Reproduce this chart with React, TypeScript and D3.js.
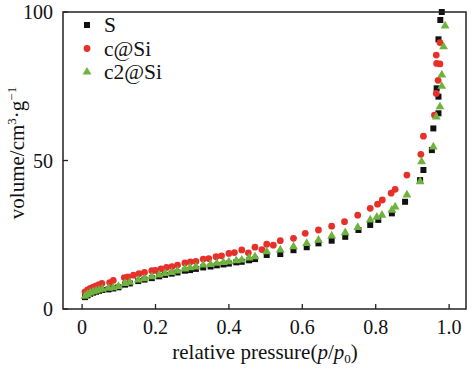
import React from "react";
import * as d3 from "d3";

const W = 474;
const H = 377;

const xTicks = [0, 0.2, 0.4, 0.6, 0.8, 1.0];
const xTickLabels = ["0", "0.2", "0.4", "0.6", "0.8", "1.0"];
const yTicks = [0, 50, 100];
const yTickLabels = ["0", "50", "100"];

const seriesNames = ["S", "c@Si", "c2@Si"];

const sP = [0.008,0.015,0.022,0.03,0.038,0.046,0.055,0.072,0.085,0.099,0.117,0.13,0.153,0.17,0.19,0.21,0.226,0.244,0.26,0.28,0.294,0.31,0.33,0.35,0.367,0.385,0.4,0.42,0.435,0.455,0.471,0.503,0.54,0.576,0.612,0.644,0.68,0.717,0.753,0.785,0.807,0.844,0.88,0.921,0.93,0.953,0.957,0.971,0.971,0.966,0.971,0.976,0.98];
const sV = [4.0,4.6,5.1,5.5,5.8,6.1,6.4,6.6,6.9,7.3,8.2,8.6,9.4,9.9,10.4,11.0,11.5,11.9,12.3,12.9,13.1,13.5,14.0,14.3,14.7,15.0,15.3,15.7,15.9,16.4,16.8,18.2,18.5,19.8,20.8,22.1,23.0,24.3,26.6,28.3,30.0,32.2,36.1,43.4,46.8,53.5,60.8,65.9,71.5,74.3,90.8,97.3,100];

const cP = [0.008,0.015,0.022,0.03,0.038,0.046,0.054,0.075,0.085,0.115,0.125,0.14,0.155,0.17,0.19,0.2,0.215,0.23,0.245,0.26,0.28,0.295,0.31,0.33,0.345,0.365,0.38,0.4,0.415,0.435,0.453,0.471,0.49,0.503,0.521,0.54,0.576,0.608,0.644,0.68,0.715,0.751,0.785,0.805,0.818,0.842,0.853,0.885,0.923,0.93,0.96,0.965,0.97,0.966,0.975,0.965,0.975];
const cV = [5.8,6.4,6.9,7.4,7.8,8.2,8.6,8.9,9.6,10.6,10.8,11.4,11.9,12.3,12.9,13.0,13.5,14.0,14.3,14.8,15.5,15.9,16.0,16.8,17.0,17.6,17.9,18.7,19.0,19.9,18.9,20.8,20.0,21.8,21.5,23.0,23.8,25.5,26.6,27.9,29.4,31.6,33.9,35.3,36.7,39.0,40.3,45.1,52.1,58.2,65.3,72.6,77.0,82.7,82.5,85.5,89.7];

const c2P = [0.008,0.015,0.022,0.03,0.038,0.046,0.055,0.072,0.085,0.099,0.117,0.13,0.153,0.17,0.19,0.21,0.226,0.244,0.26,0.28,0.294,0.31,0.33,0.35,0.367,0.385,0.4,0.42,0.435,0.455,0.471,0.503,0.54,0.576,0.612,0.644,0.68,0.717,0.751,0.785,0.803,0.817,0.844,0.853,0.885,0.921,0.925,0.957,0.965,0.975,0.98,0.98,0.985,0.989];
const c2V = [4.3,4.9,5.4,5.8,6.1,6.4,6.7,7.0,7.2,7.6,8.6,9.0,9.8,10.2,10.9,11.5,12.0,12.3,12.8,13.5,13.9,14.2,14.8,15.0,15.4,15.7,15.9,16.3,16.5,17.2,17.6,19.3,19.9,21.0,22.1,23.2,24.6,25.7,27.5,30.0,30.9,31.6,33.3,34.4,38.4,42.9,49.6,54.6,64.7,68.1,75.0,78.8,88.3,95.3];

const FONT = "'Liberation Serif', 'Times New Roman', serif";
const BLACK = "#111111";
const RED = "#e8302a";
const GREEN = "#6fb33f";

export default function App() {
  const left = 63, right = 466, top = 12, bottom = 309;
  const x = d3.scaleLinear().domain([-0.052, 1.046]).range([left, right]);
  const y = d3.scaleLinear().domain([0, 100]).range([bottom, top]);

  const sq = d3.symbol().type(d3.symbolSquare).size(36)();
  const ci = d3.symbol().type(d3.symbolCircle).size(36)();
  const tri = d3.symbol().type(d3.symbolTriangle).size(34)();

  const series = [
    { p: sP, v: sV, path: sq, color: BLACK },
    { p: cP, v: cV, path: ci, color: RED },
    { p: c2P, v: c2V, path: tri, color: GREEN },
  ];

  return (
    <svg width={W} height={H} style={{ position: "absolute", left: 0, top: 0, background: "#fff" }} fontFamily={FONT}>
      <rect x={0} y={0} width={W} height={H} fill="#fff" />
      {series.map((s, si) => (
        <g key={si} fill={s.color}>
          {s.p.map((p, i) => (
            <path key={i} d={s.path} transform={`translate(${x(p)},${y(s.v[i])})`} />
          ))}
        </g>
      ))}
      <rect x={left} y={top} width={right - left} height={bottom - top} fill="none" stroke="#222" strokeWidth={1.5} />
      {xTicks.map((t, i) => (
        <g key={i}>
          <line x1={x(t)} x2={x(t)} y1={bottom} y2={bottom - 5} stroke="#222" strokeWidth={1.3} />
          <text x={x(t)} y={334} fontSize={20} textAnchor="middle" fill="#111">{xTickLabels[i]}</text>
        </g>
      ))}
      {yTicks.map((t, i) => (
        <g key={i}>
          <line x1={left} x2={left + 5} y1={y(t)} y2={y(t)} stroke="#222" strokeWidth={1.3} />
          <text x={53} y={y(t) + 7} fontSize={20} textAnchor="end" fill="#111">{yTickLabels[i]}</text>
        </g>
      ))}
      <text x={265} y={359} fontSize={21} textAnchor="middle" fill="#111">
        relative pressure(<tspan fontStyle="italic">p</tspan>/<tspan fontStyle="italic">p</tspan><tspan fontSize={13} dy={4}>0</tspan><tspan dy={-4}>)</tspan>
      </text>
      <text transform={`translate(24,153) rotate(-90)`} fontSize={21} textAnchor="middle" fill="#111">
        volume/cm<tspan fontSize={13} dy={-8}>3</tspan><tspan dy={8}>·g</tspan><tspan fontSize={13} dy={-8}>−1</tspan>
      </text>
      {series.map((s, i) => (
        <g key={i}>
          <path d={s.path} fill={s.color} transform={`translate(87,${25 + i * 23.5})`} />
          <text x={104} y={32 + i * 23.5} fontSize={21.5} fill="#111">{seriesNames[i]}</text>
        </g>
      ))}
    </svg>
  );
}
